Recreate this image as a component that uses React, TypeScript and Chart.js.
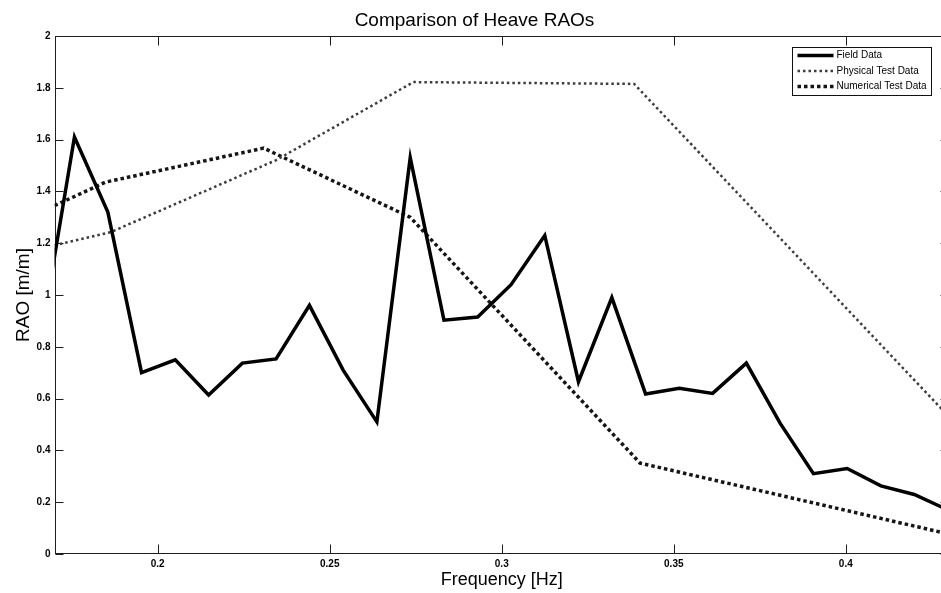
import React, { useEffect, useRef } from "react";
import { Chart, registerables } from "chart.js";

Chart.register(...registerables);

// ---- Data ----
const fieldFreq = [
  0.166, 0.1758, 0.1855, 0.1953, 0.2051, 0.2148, 0.2246, 0.2344, 0.2441, 0.2539,
  0.2637, 0.2734, 0.2832, 0.293, 0.3027, 0.3125, 0.3223, 0.332, 0.3418, 0.3516,
  0.3613, 0.3711, 0.3809, 0.3906, 0.4004, 0.4102, 0.4199, 0.4297,
];
const fieldRao = [
  0.83, 1.61, 1.32, 0.7, 0.75, 0.614, 0.737, 0.753, 0.96, 0.71,
  0.51, 1.53, 0.903, 0.915, 1.04, 1.23, 0.665, 0.99, 0.618, 0.64,
  0.62, 0.737, 0.505, 0.31, 0.33, 0.263, 0.23, 0.17,
];
const physicalFreq = [0.17, 0.1864, 0.2343, 0.2743, 0.3385, 0.43];
const physicalRao = [1.192, 1.243, 1.52, 1.822, 1.815, 0.53];
const numericalFreq = [0.17, 0.1849, 0.2308, 0.2734, 0.3402, 0.43];
const numericalRao = [1.345, 1.436, 1.567, 1.3, 0.351, 0.077];

const xTicks = [0.2, 0.25, 0.3, 0.35, 0.4];
const yTicks = [0, 0.2, 0.4, 0.6, 0.8, 1, 1.2, 1.4, 1.6, 1.8, 2];

const seriesLabels = ["Field Data", "Physical Test Data", "Numerical Test Data"];

const FONT = '"Liberation Sans", Arial, Helvetica, sans-serif';

const toPoints = (xs: number[], ys: number[]) => xs.map((x, i) => ({ x, y: ys[i] }));

const framePlugin = {
  id: "matlabFrame",
  beforeDatasetsDraw(chart: any) {
    const { ctx, chartArea, scales } = chart;
    const { left, right, top, bottom } = chartArea;
    const xs = scales.x;
    const ys = scales.y;
    ctx.save();
    ctx.strokeStyle = "#1e1e1e";
    ctx.lineWidth = 1;
    const L = Math.round(left) + 0.5;
    const R = Math.round(right) - 0.5;
    const T = Math.round(top) + 0.5;
    const B = Math.round(bottom) - 0.5;
    ctx.strokeRect(L, T, R - L, B - T);
    ctx.beginPath();
    xs.ticks.forEach((t: any) => {
      const px = Math.round(xs.getPixelForValue(t.value)) + 0.5;
      ctx.moveTo(px, B);
      ctx.lineTo(px, B - 9);
      ctx.moveTo(px, T);
      ctx.lineTo(px, T + 9);
    });
    ys.ticks.forEach((t: any) => {
      const py = Math.round(ys.getPixelForValue(t.value)) + 0.5;
      ctx.moveTo(L, py);
      ctx.lineTo(L + 8, py);
      ctx.moveTo(R, py);
      ctx.lineTo(R - 8, py);
    });
    ctx.stroke();
    ctx.restore();
  },
};

const legendPlugin = {
  id: "boxLegend",
  afterDraw(chart: any) {
    const { ctx, chartArea } = chart;
    const datasets = chart.data.datasets;
    ctx.save();
    ctx.font = `10px ${FONT}`;
    const maxW = Math.max(...datasets.map((d: any) => ctx.measureText(d.label).width));
    const padL = 5;
    const sample = 36;
    const gap = 3;
    const padR = 5;
    const w = padL + sample + gap + maxW + padR;
    const boxRight = Math.round(chartArea.right - 18) + 0.5;
    const boxLeft = Math.round(boxRight - w) + 0.5;
    const boxTop = Math.round(chartArea.top + 11) + 0.5;
    const h = 48;
    ctx.fillStyle = "#ffffff";
    ctx.fillRect(boxLeft, boxTop, boxRight - boxLeft, h);
    ctx.strokeStyle = "#111";
    ctx.lineWidth = 1;
    ctx.setLineDash([]);
    ctx.strokeRect(boxLeft, boxTop, boxRight - boxLeft, h);
    datasets.forEach((d: any, i: number) => {
      const cy = boxTop + 8 + i * 15.5;
      ctx.beginPath();
      ctx.strokeStyle = d.borderColor;
      ctx.lineWidth = d.borderWidth;
      ctx.setLineDash(d.borderDash || []);
      ctx.moveTo(boxLeft + padL, cy);
      ctx.lineTo(boxLeft + padL + sample, cy);
      ctx.stroke();
      ctx.setLineDash([]);
      ctx.fillStyle = "#000";
      ctx.textBaseline = "middle";
      ctx.textAlign = "left";
      ctx.fillText(d.label, boxLeft + padL + sample + gap, cy);
    });
    ctx.restore();
  },
};

export default function App() {
  const canvasRef = useRef<HTMLCanvasElement | null>(null);

  useEffect(() => {
    document.body.style.margin = "0";
    const canvas = canvasRef.current;
    if (!canvas) return;
    const chart = new Chart(canvas, {
      type: "line",
      data: {
        datasets: [
          {
            label: seriesLabels[0],
            data: toPoints(fieldFreq, fieldRao),
            borderColor: "#000000",
            borderWidth: 3.5,
            pointRadius: 0,
            tension: 0,
            fill: false,
          },
          {
            label: seriesLabels[1],
            data: toPoints(physicalFreq, physicalRao),
            borderColor: "#3c3c3c",
            borderWidth: 2.5,
            borderDash: [2.5, 3],
            pointRadius: 0,
            tension: 0,
            fill: false,
          },
          {
            label: seriesLabels[2],
            data: toPoints(numericalFreq, numericalRao),
            borderColor: "#151515",
            borderWidth: 3.5,
            borderDash: [3.5, 3],
            pointRadius: 0,
            tension: 0,
            fill: false,
          },
        ],
      },
      options: {
        responsive: false,
        animation: false,
        devicePixelRatio: 1,
        layout: { padding: { left: 0, right: 1, top: 0, bottom: 0 } },
        plugins: {
          legend: { display: false },
          tooltip: { enabled: false },
          title: {
            display: true,
            text: "Comparison of Heave RAOs",
            color: "#000",
            font: { family: FONT, size: 19, weight: "normal", lineHeight: 1.2 },
            padding: { top: 9, bottom: 4.2 },
          },
        },
        scales: {
          x: {
            type: "linear",
            min: 0.17,
            max: 0.43,
            afterBuildTicks: (scale: any) => {
              scale.ticks = xTicks.map((v) => ({ value: v }));
            },
            afterFit: (scale: any) => {
              scale.height = 39;
            },
            grid: { display: false, drawTicks: false, tickLength: 0 },
            border: { display: false },
            ticks: {
              color: "#000",
              font: { family: FONT, size: 10, weight: "bold" },
              padding: 4,
              maxRotation: 0,
              autoSkip: false,
              callback: (v: any) => String(Number(Number(v).toFixed(2))),
            },
            title: {
              display: true,
              text: "Frequency [Hz]",
              color: "#000",
              font: { family: FONT, size: 18, weight: "normal", lineHeight: 1.2 },
              padding: { top: 0, bottom: 2.2 },
            },
          },
          y: {
            type: "linear",
            min: 0,
            max: 2,
            afterBuildTicks: (scale: any) => {
              scale.ticks = yTicks.map((v) => ({ value: v }));
            },
            afterFit: (scale: any) => {
              scale.width = 54.5;
            },
            grid: { display: false, drawTicks: false, tickLength: 0 },
            border: { display: false },
            ticks: {
              color: "#000",
              font: { family: FONT, size: 10, weight: "bold" },
              padding: 4,
              autoSkip: false,
              callback: (v: any) => String(Number(Number(v).toFixed(2))),
            },
            title: {
              display: true,
              text: "RAO [m/m]",
              color: "#000",
              font: { family: FONT, size: 19, weight: "normal", lineHeight: 1.2 },
              padding: { top: 12, bottom: 0 },
            },
          },
        },
      },
      plugins: [framePlugin, legendPlugin],
    } as any);
    return () => chart.destroy();
  }, []);

  return (
    <div style={{ width: 941, height: 593, overflow: "hidden", position: "relative", background: "#fff" }}>
      <canvas ref={canvasRef} width={950} height={593} style={{ display: "block", width: 950, height: 593 }} />
    </div>
  );
}
